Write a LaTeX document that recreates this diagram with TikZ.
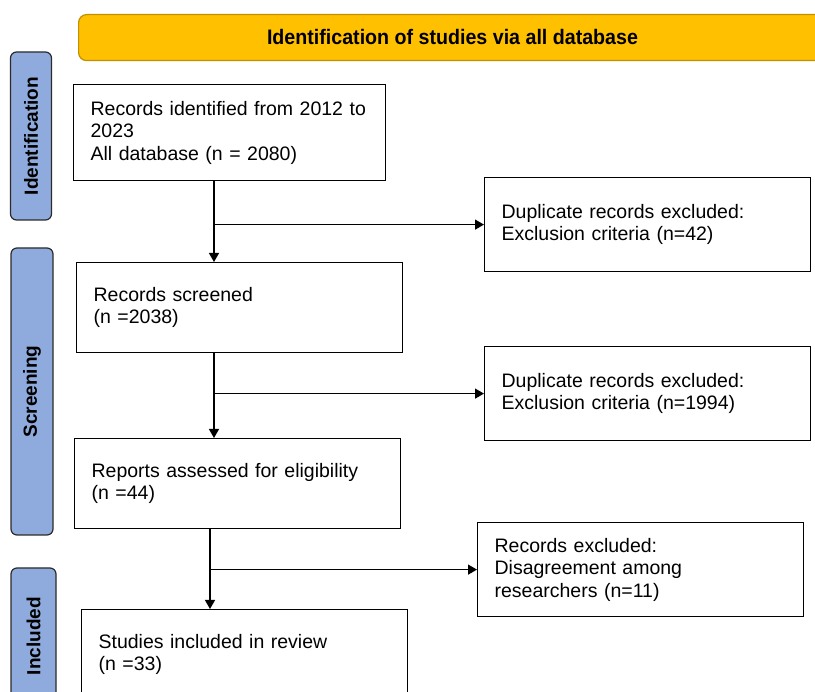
\documentclass[tikz,border=0pt]{standalone}
\usepackage{fontspec}
\usepackage{graphicx}
\setmainfont{Liberation Sans}
\usetikzlibrary{arrows.meta}
\definecolor{bannerfill}{HTML}{FFC000}
\definecolor{bannerline}{HTML}{BF9000}
\definecolor{sidefill}{HTML}{8FAADC}
\definecolor{sideline}{HTML}{2B2B2B}
\tikzset{
  box/.style={draw=black, line width=1.2pt, fill=white, align=left, anchor=north west,
    inner xsep=17pt, inner ysep=0pt, font=\fontsize{19.5}{22.5}\selectfont},
  side/.style={draw=sideline, line width=1.2pt, fill=sidefill, rounded corners=6pt, rotate=90,
    font=\bfseries\fontsize{19}{20}\selectfont, inner sep=0pt},
  arr/.style={line width=1.3pt, -{Triangle[length=9pt,width=10pt]}},
}
\begin{document}
\begin{tikzpicture}[x=1pt,y=-1pt]
\useasboundingbox (0,0) rectangle (815,692);
\clip (0,0) rectangle (815,692);
\fill[white] (0,0) rectangle (815,692);
% banner
\node[draw=bannerline, line width=1.2pt, fill=bannerfill, rounded corners=8pt, anchor=north west,
  minimum width=760pt, minimum height=46pt, inner sep=0pt] (banner) at (78,14) {};
\node[font=\bfseries\fontsize{21}{22}\selectfont] (bannertxt) at (452.5,36.5)
  {\scalebox{0.935}[1]{Identification of studies via all database}};
% side labels
\node[side, minimum width=168pt, minimum height=41pt] (sid) at (31,136) {Identification};
\node[side, minimum width=287pt, minimum height=42pt] (sscr) at (32,391.5) {Screening};
\node[side, minimum width=136pt, minimum height=45pt] (sinc) at (33.5,636) {Included};
% boxes
\node[box, text width=278pt, minimum height=96pt] (B1) at (73,84)
  {Records identified from 2012 to\\2023\\All database (n = 2080)};
\node[box, text width=292pt, minimum height=94pt] (E1) at (484,177)
  {Duplicate records excluded:\\Exclusion criteria (n=42)};
\node[box, text width=292pt, minimum height=90pt] (B2) at (76,262)
  {Records screened\\(n =2038)};
\node[box, text width=292pt, minimum height=94pt] (E2) at (484,346)
  {Duplicate records excluded:\\Exclusion criteria (n=1994)};
\node[box, text width=292pt, minimum height=90pt] (B3) at (74,438)
  {Reports assessed for eligibility\\(n =44)};
\node[box, text width=292pt, minimum height=94pt] (E3) at (477,522)
  {Records excluded:\\Disagreement among\\researchers (n=11)};
\node[box, text width=292pt, minimum height=90pt] (B4) at (81,609)
  {Studies included in review\\(n =33)};
% connectors
\coordinate (v1) at (214,0);
\coordinate (v3) at (210,0);
\draw[arr] (v1 |- B1.south) -- (v1 |- B2.north);
\draw[arr] (v1 |- E1.west) -- (E1.west);
\draw[arr] (v1 |- B2.south) -- (v1 |- B3.north);
\draw[arr] (v1 |- E2.west) -- (E2.west);
\draw[arr] (v3 |- B3.south) -- (v3 |- B4.north);
\draw[arr] (v3 |- E3.west) -- (E3.west);
\end{tikzpicture}
\end{document}
